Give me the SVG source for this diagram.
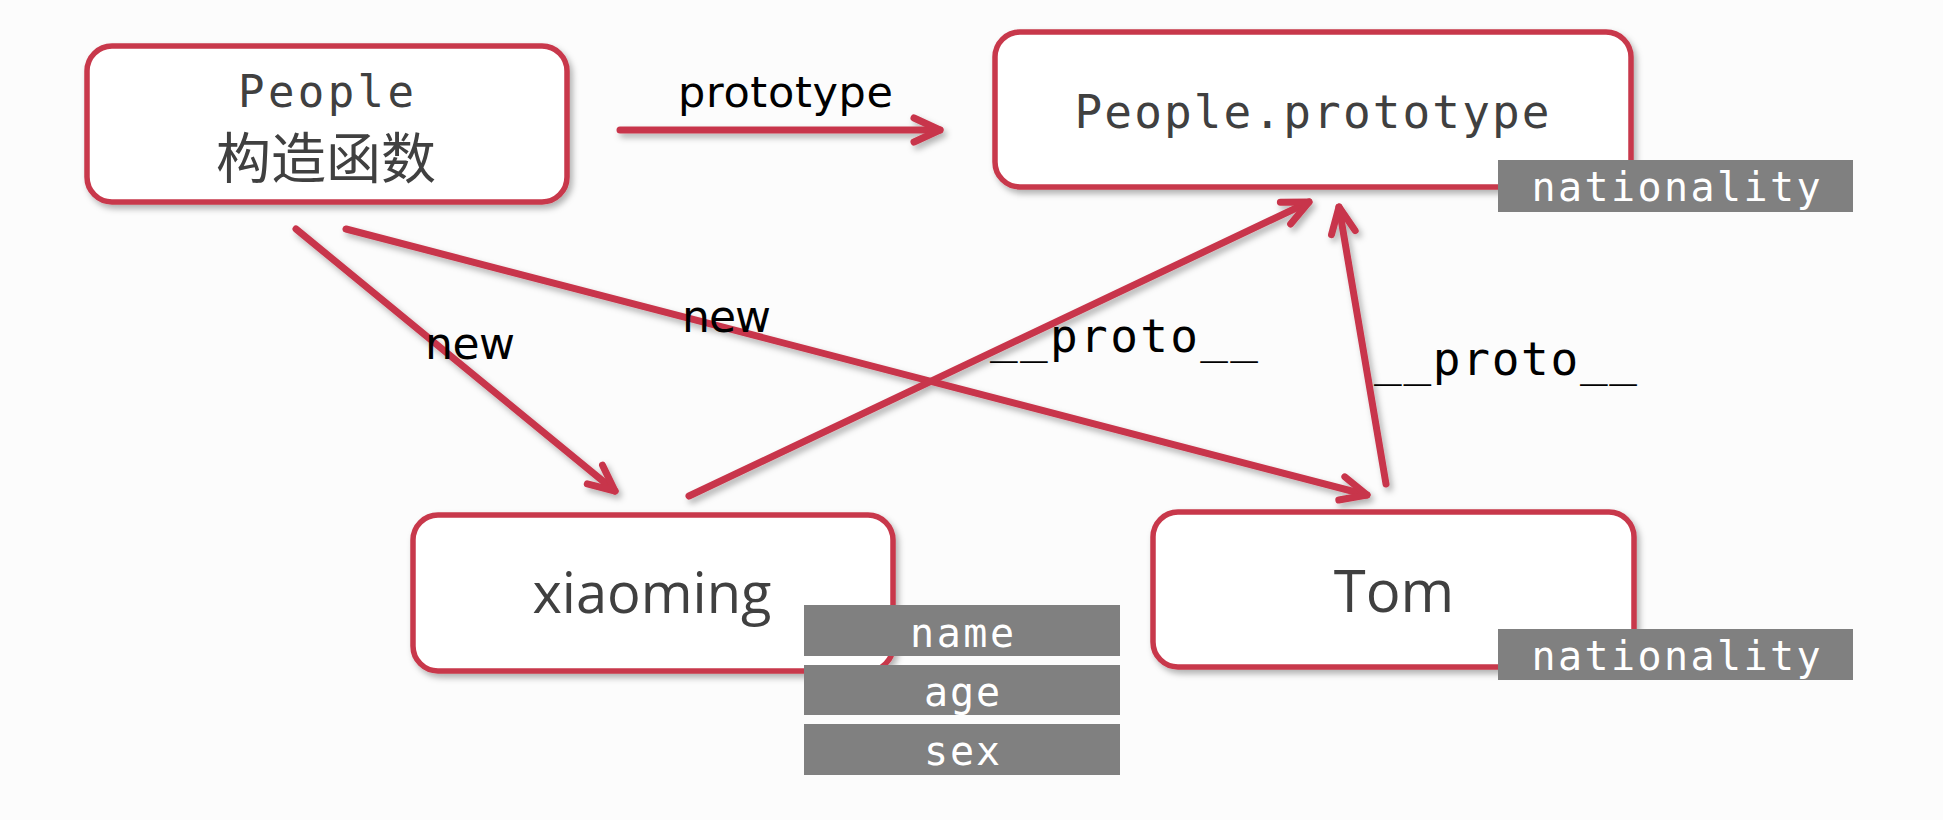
<svg xmlns="http://www.w3.org/2000/svg" width="1943" height="820" viewBox="0 0 1943 820">
<defs>
<filter id="sh" x="-10%" y="-10%" width="120%" height="130%">
<feDropShadow dx="3" dy="4" stdDeviation="3" flood-color="#000" flood-opacity="0.3"/>
</filter>
<marker id="ah" viewBox="-40 -20 50 40" refX="0" refY="0" markerWidth="50" markerHeight="40" markerUnits="userSpaceOnUse" orient="auto">
<path d="M-26,-12 L0,0 L-26,12" fill="none" stroke="#c8364b" stroke-width="7" stroke-linecap="round" stroke-linejoin="round"/>
</marker>
<style>
.box{fill:#fff;stroke:#c8384b;stroke-width:5.5}
.mono{font-family:"DejaVu Sans Mono","Liberation Mono",monospace}
.sans{font-family:"Open Sans","Noto Sans",sans-serif}
.lbl{font-family:"DejaVu Sans","Liberation Sans",sans-serif;fill:#000}
.dark{fill:#404040}
.tag{fill:#808080}
.tagt{fill:#fff;font-family:"DejaVu Sans Mono","Liberation Mono",monospace;font-size:40px;text-anchor:middle}
.conn{stroke:#c8364b;stroke-width:7;fill:none;stroke-linecap:round;marker-end:url(#ah)}
</style>
</defs>
<rect width="1943" height="820" fill="#fcfcfc"/>
<g id="connectors" filter="url(#sh)">
<line class="conn" x1="620" y1="130" x2="940" y2="130"/>
<line class="conn" x1="296" y1="229" x2="615" y2="491"/>
<line class="conn" x1="346" y1="229" x2="1367" y2="495"/>
<line class="conn" x1="689" y1="496" x2="1309" y2="202"/>
<line class="conn" x1="1386" y1="484" x2="1339" y2="207"/>
</g>
<g id="labels">
<text class="lbl" x="678" y="107" font-size="43" textLength="215">prototype</text>
<text class="lbl" x="425" y="359" font-size="44" textLength="90">new</text>
<text class="lbl" x="682" y="332" font-size="44" textLength="89">new</text>
<text class="mono" x="990" y="352" font-size="46" textLength="268" fill="#000">__proto__</text>
<text class="mono" x="1374" y="375" font-size="46" textLength="263" fill="#000">__proto__</text>
</g>
<g id="people">
<rect class="box" x="87" y="46" width="480" height="156" rx="25" filter="url(#sh)"/>
<text class="mono dark" x="326" y="107" font-size="44" text-anchor="middle" textLength="176">People</text>
<text class="dark" x="326" y="178" font-size="55" text-anchor="middle" font-family="Noto Sans CJK SC, sans-serif">构造函数</text>
</g>
<g id="people-prototype">
<rect class="box" x="995" y="32" width="636" height="155" rx="25" filter="url(#sh)"/>
<text class="mono dark" x="1312" y="128" font-size="46" text-anchor="middle" textLength="475">People.prototype</text>
<rect class="tag" x="1498" y="160" width="355" height="52"/>
<text class="tagt" x="1676" y="201" textLength="289">nationality</text>
</g>
<g id="xiaoming">
<rect class="box" x="413" y="515" width="480" height="156" rx="25" filter="url(#sh)"/>
<text class="sans dark" x="652" y="613" font-size="56" text-anchor="middle">xiaoming</text>
<rect class="tag" x="804" y="605" width="316" height="51"/>
<text class="tagt" x="962" y="647" textLength="104">name</text>
<rect class="tag" x="804" y="665" width="316" height="50"/>
<text class="tagt" x="962" y="706" textLength="76">age</text>
<rect class="tag" x="804" y="724" width="316" height="51"/>
<text class="tagt" x="962" y="765" textLength="76">sex</text>
</g>
<g id="tom">
<rect class="box" x="1153" y="512" width="481" height="155" rx="25" filter="url(#sh)"/>
<text class="sans dark" x="1394" y="612" font-size="58" text-anchor="middle">Tom</text>
<rect class="tag" x="1498" y="629" width="355" height="51"/>
<text class="tagt" x="1676" y="670" textLength="289">nationality</text>
</g>
</svg>
